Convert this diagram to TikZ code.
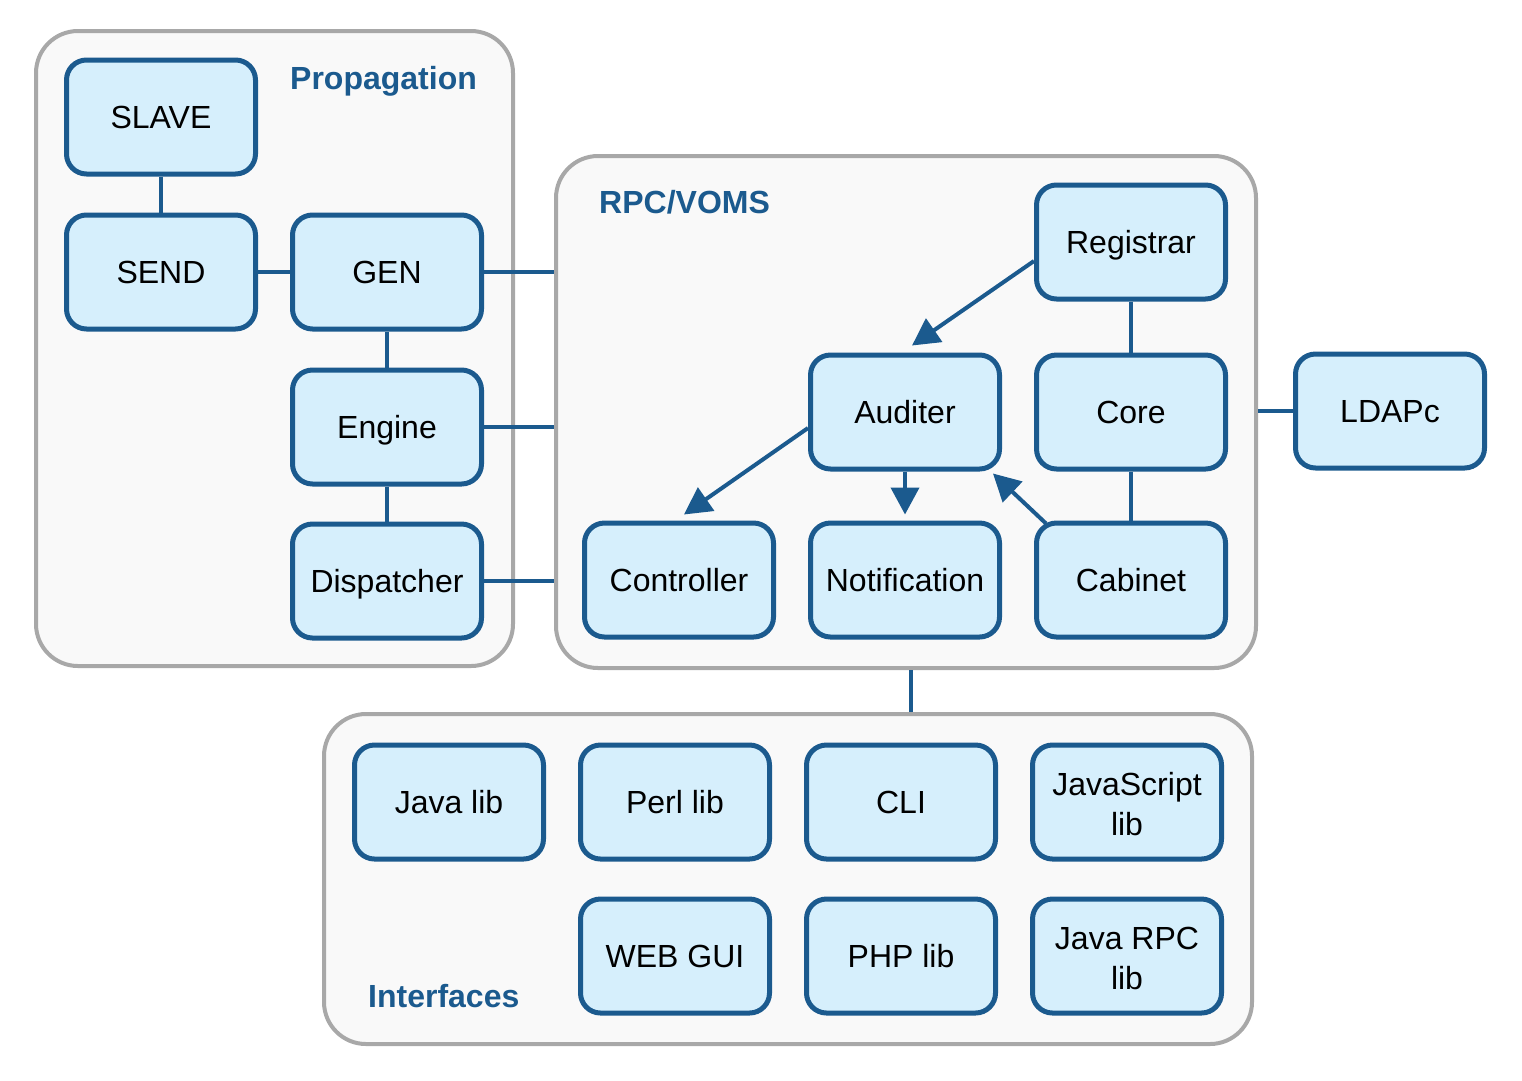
\documentclass[tikz,border=0pt]{standalone}
\usepackage{fontspec}
\setmainfont{Liberation Sans}
\usetikzlibrary{arrows.meta}
\definecolor{bline}{HTML}{1B5A8E}
\definecolor{bfill}{HTML}{D6EFFC}
\definecolor{gdraw}{HTML}{A8A8A8}
\definecolor{gfill}{HTML}{F9F9F9}
\tikzset{
  grp/.style={draw=gdraw, fill=gfill, line width=4pt, rounded corners=42pt, inner sep=0pt},
  box/.style={draw=bline, fill=bfill, line width=5pt, rounded corners=20pt, inner sep=0pt,
    minimum width=189pt, minimum height=114pt, align=center,
    font=\fontsize{32}{40}\selectfont, text height=23pt, text depth=0pt},
  twoline/.style={text height=66pt, text depth=0pt},
  grplabel/.style={text=bline, font=\fontsize{32}{40}\selectfont\bfseries, inner sep=0pt, anchor=base west},
  conn/.style={draw=bline, line width=4pt},
  arr/.style={draw=bline, line width=4pt, -{Triangle[length=27pt,width=28pt]}},
}
\begin{document}
\begin{tikzpicture}[x=1pt,y=-1pt]
\useasboundingbox (0,0) rectangle (1522,1080);
% groups
\node[grp, minimum width=477pt, minimum height=635pt] (prop) at (274.5,348.5) {};
\node[grp, minimum width=700pt, minimum height=512pt] (rpc) at (906,412) {};
\node[grp, minimum width=928pt, minimum height=330pt] (intf) at (788,879) {};
\node[grplabel] (lprop) at (290,89) {Propagation};
\node[grplabel] (lrpc) at (599,213) {RPC/VOMS};
\node[grplabel] (lintf) at (368,1007) {Interfaces};
% connectors between groups (drawn below boxes)
\draw[conn] ([xshift=5pt]rpc.south) -- ([xshift=5pt]rpc.south |- intf.north);
% propagation boxes
\node[box] (slave) at (161,117) {SLAVE};
\node[box] (send) at (161,272) {SEND};
\node[box] (gen) at (387,272) {GEN};
\node[box] (engine) at (387,427) {Engine};
\node[box] (disp) at (387,581) {Dispatcher};
% rpc boxes
\node[box] (registrar) at (1131,242) {Registrar};
\node[box] (auditer) at (905,412) {Auditer};
\node[box] (core) at (1131,412) {Core};
\node[box] (controller) at (679,580) {Controller};
\node[box] (notif) at (905,580) {Notification};
\node[box] (cabinet) at (1131,580) {Cabinet};
\node[box] (ldap) at (1390,411) {LDAPc};
% interface boxes
\node[box] (javalib) at (449,802) {Java lib};
\node[box] (perllib) at (675,802) {Perl lib};
\node[box] (cli) at (901,802) {CLI};
\node[box, twoline] (jslib) at (1127,802) {JavaScript\\lib};
\node[box] (webgui) at (675,956) {WEB GUI};
\node[box] (phplib) at (901,956) {PHP lib};
\node[box, twoline] (jrpclib) at (1127,956) {Java RPC\\lib};
% connectors
\draw[conn] (slave) -- (send);
\draw[conn] (send) -- (gen);
\draw[conn] (gen) -- (engine);
\draw[conn] (engine) -- (disp);
\draw[conn] (gen.east) -- (gen.east -| rpc.west);
\draw[conn] (engine.east) -- (engine.east -| rpc.west);
\draw[conn] (disp.east) -- (disp.east -| rpc.west);
\draw[conn] (registrar) -- (core);
\draw[conn] (core) -- (cabinet);
\draw[conn] (ldap.west -| rpc.east) -- (ldap.west);
% arrows
\draw[arr] ([yshift=-19pt]registrar.west) -- ([xshift=7pt,yshift=7pt]auditer.north);
\draw[arr] ([yshift=-16pt]auditer.west) -- ([xshift=5pt,yshift=6pt]controller.north);
\draw[arr] (auditer.south) -- ([yshift=6pt]notif.north);
\draw[arr] ([xshift=12pt,yshift=-3pt]cabinet.north west) -- ([xshift=-9pt,yshift=-2pt]auditer.south east);
\end{tikzpicture}
\end{document}
